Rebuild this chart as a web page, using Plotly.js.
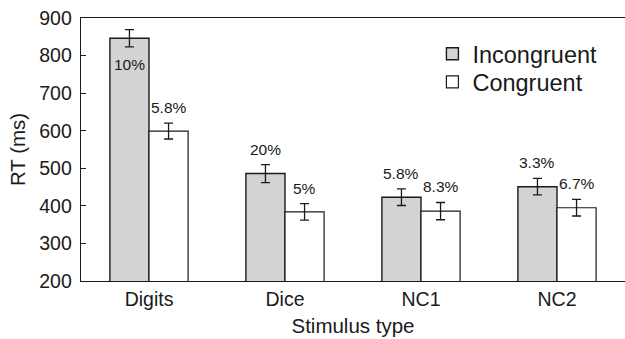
<!DOCTYPE html>
<html>
<head>
<meta charset="utf-8">
<script src="https://cdn.plot.ly/plotly-3.0.1.min.js"></script>
<style>html,body{margin:0;padding:0;background:#fff;}#chart{width:625px;height:339px;}</style>
</head>
<body>
<div id="chart"></div>
<script>
const categories = ["Digits", "Dice", "NC1", "NC2"];
const incongruentRT = [846, 486, 423, 451];
const incongruentErr = [23, 24, 22, 22];
const congruentRT = [599, 384, 386, 395];
const congruentErr = [21, 22, 23, 22];
const incongruentPct = ["10%", "20%", "5.8%", "3.3%"];
const congruentPct = ["5.8%", "5%", "8.3%", "6.7%"];

const FONT = "Liberation Sans, Arial, Helvetica, sans-serif";
const TXT = "#1a1a1a";
const yMin = 200, yMax = 900;
const margin = {l: 81, r: 0, t: 18, b: 58};
const W = 625, H = 339;
const bargap = 0.425;
const plotW = W - margin.l - margin.r;
const plotH = H - margin.t - margin.b;
const barPx = plotW / categories.length * (1 - bargap) / 2;
const pxPerUnit = plotH / (yMax - yMin);

const traces = [
  {
    type: "bar", name: "Incongruent", x: categories, y: incongruentRT, legend: "legend",
    marker: {color: "#d3d3d3", line: {color: "#1a1a1a", width: 1.4}},
    error_y: {type: "data", array: incongruentErr, visible: true, color: "#1a1a1a", thickness: 1.3, width: 4.5},
    hoverinfo: "none"
  },
  {
    type: "bar", name: "Congruent", x: categories, y: congruentRT, legend: "legend2",
    marker: {color: "#ffffff", line: {color: "#1a1a1a", width: 1.2}},
    error_y: {type: "data", array: congruentErr, visible: true, color: "#1a1a1a", thickness: 1.3, width: 4.5},
    hoverinfo: "none"
  }
];

const annotations = [];
function addLabels(vals, errs, labels, side) {
  vals.forEach((v, i) => {
    const top = v + errs[i];
    const fitsAbove = top + 26 / pxPerUnit < yMax;
    annotations.push({
      x: categories[i], y: fitsAbove ? top : v - errs[i],
      xref: "x", yref: "y",
      xshift: side * barPx / 2,
      yshift: fitsAbove ? 5 : -7,
      yanchor: fitsAbove ? "bottom" : "top",
      text: labels[i], showarrow: false,
      font: {family: FONT, size: 15.5, color: TXT}
    });
  });
}
addLabels(incongruentRT, incongruentErr, incongruentPct, -1);
addLabels(congruentRT, congruentErr, congruentPct, 1);

const legendBase = {
  x: 0.646, xanchor: "left", yanchor: "middle",
  bgcolor: "rgba(0,0,0,0)", font: {family: FONT, size: 23.5, color: TXT},
  itemclick: false
};
const rowY = px => 1 - (px - margin.t) / plotH;

const layout = {
  width: W, height: H,
  margin: margin,
  paper_bgcolor: "#ffffff", plot_bgcolor: "#ffffff",
  barmode: "group", bargap: bargap, bargroupgap: 0,
  showlegend: true,
  legend: Object.assign({}, legendBase, {y: rowY(54)}),
  legend2: Object.assign({}, legendBase, {y: rowY(82)}),
  xaxis: {
    type: "category", showline: true, linecolor: "#1a1a1a", linewidth: 1.3, mirror: true,
    ticks: "", showgrid: false, zeroline: false,
    tickfont: {family: FONT, size: 19.5, color: TXT},
    title: {text: "Stimulus type", font: {family: FONT, size: 20.5, color: TXT}, standoff: 10},
    automargin: false
  },
  yaxis: {
    range: [yMin, yMax], dtick: 100, tick0: 200,
    showline: true, linecolor: "#1a1a1a", linewidth: 1.3,
    ticks: "inside", ticklen: 5, tickcolor: "#1a1a1a", tickwidth: 1.2,
    ticklabelstandoff: 4,
    showgrid: false, zeroline: false,
    tickfont: {family: FONT, size: 19.5, color: TXT},
    title: {text: "RT (ms)", font: {family: FONT, size: 20.5, color: TXT}, standoff: 8},
    automargin: false
  },
  annotations: annotations
};

Plotly.newPlot("chart", traces, layout, {staticPlot: true, displayModeBar: false});
</script>
</body>
</html>
